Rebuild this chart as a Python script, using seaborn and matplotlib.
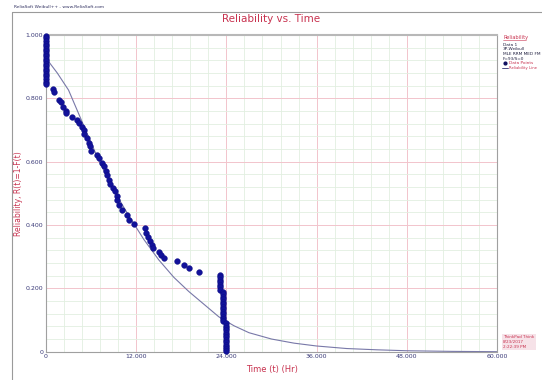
import numpy as np
import pandas as pd
import matplotlib.pyplot as plt
import matplotlib.lines as mlines
from matplotlib.ticker import MultipleLocator, FixedLocator
import seaborn as sns

# datos (tiempo en horas, fiabilidad)
t_col0 = [0.05] * 20
r_col0 = [0.997, 0.989, 0.981, 0.973, 0.965, 0.957, 0.949, 0.941, 0.933, 0.925,
          0.917, 0.909, 0.901, 0.893, 0.885, 0.877, 0.869, 0.861, 0.853, 0.845]

t_mid = [0.89, 1.06, 1.77, 1.95, 2.30, 2.62, 2.66, 3.50, 4.08, 4.43, 4.75, 5.05,
         5.09, 5.41, 5.68, 5.85, 5.98, 6.74, 7.09, 7.41, 7.71, 7.98, 8.15, 8.34,
         8.51, 8.95, 9.18, 9.40, 9.45, 9.75, 10.07, 10.73, 11.04, 11.74, 13.16,
         13.30, 13.60, 13.83, 14.06, 14.27, 15.07, 15.25, 15.69, 17.38, 18.39,
         19.06, 20.39]
r_mid = [0.830, 0.820, 0.795, 0.787, 0.774, 0.761, 0.753, 0.742, 0.732, 0.721,
         0.711, 0.700, 0.687, 0.674, 0.660, 0.648, 0.634, 0.621, 0.611, 0.597,
         0.585, 0.572, 0.558, 0.543, 0.530, 0.516, 0.506, 0.492, 0.479, 0.464,
         0.449, 0.432, 0.416, 0.404, 0.390, 0.376, 0.362, 0.350, 0.338, 0.327,
         0.316, 0.306, 0.296, 0.285, 0.274, 0.264, 0.251]

t_col1 = [23.1] * 7
r_col1 = [0.243, 0.235, 0.227, 0.219, 0.211, 0.203, 0.196]
t_col2 = [23.5] * 13
r_col2 = [0.190, 0.182, 0.174, 0.166, 0.158, 0.150, 0.142, 0.134, 0.126, 0.118,
          0.110, 0.103, 0.096]
t_col3 = [23.9] * 13
r_col3 = [0.090, 0.082, 0.075, 0.068, 0.060, 0.052, 0.045, 0.037, 0.030, 0.022,
          0.015, 0.008, 0.001]

# linea de fiabilidad (3P-Weibull)
t_line = [0, 1.5, 3, 5, 7, 9, 11, 13, 15, 17, 19, 21, 23, 25, 27, 30, 33, 36,
          40, 44, 48, 54, 60]
r_line = [0.927, 0.880, 0.826, 0.715, 0.605, 0.510, 0.430, 0.355, 0.290, 0.235,
          0.190, 0.150, 0.110, 0.082, 0.060, 0.040, 0.027, 0.018, 0.010, 0.006,
          0.003, 0.001, 0.0]

x_ticks = [0, 12, 24, 36, 48, 60]
x_labels = ['0', '12.000', '24.000', '36.000', '48.000', '60.000']
y_ticks = [0, 0.2, 0.4, 0.6, 0.8, 1.0]
y_labels = ['0', '0.200', '0.400', '0.600', '0.800', '1.000']

puntos = pd.DataFrame({
    't': t_col0 + t_mid + t_col1 + t_col2 + t_col3,
    'r': r_col0 + r_mid + r_col1 + r_col2 + r_col3,
})
linea = pd.DataFrame({'t': t_line, 'r': r_line})

sns.set_style("white")
plt.rcParams['font.family'] = ['DejaVu Sans']

ROJO = '#c8324f'
AZUL_TXT = '#3a3a78'

fig = plt.figure(figsize=(5.42, 3.8), dpi=100)
ax = fig.add_axes([46 / 542, 1 - 351.7 / 380, (497 - 46) / 542, (351.7 - 35) / 380])

# rejilla menor verde y mayor rosa
ax.xaxis.set_minor_locator(MultipleLocator(2.4))
ax.yaxis.set_minor_locator(MultipleLocator(0.04))
ax.xaxis.set_major_locator(FixedLocator(x_ticks))
ax.yaxis.set_major_locator(FixedLocator(y_ticks))
ax.grid(which='minor', color='#e2efe0', lw=0.6)
ax.grid(which='major', color='#f2c4cc', lw=0.7)
ax.set_axisbelow(True)

sns.lineplot(data=linea, x='t', y='r', ax=ax, color='#7878a8', lw=0.8)
sns.scatterplot(data=puntos, x='t', y='r', ax=ax, color='#12129a', s=17,
                edgecolor='#0a0a80', linewidth=0.3, clip_on=False, zorder=5)

ax.set_xlim(0, 60)
ax.set_ylim(0, 1)
ax.set_xticklabels(x_labels)
ax.set_yticklabels(y_labels)
ax.tick_params(which='both', length=0, labelsize=4.5, labelcolor=AZUL_TXT, pad=2)

for s in ax.spines.values():
    s.set_color('#a0a0a0')
    s.set_linewidth(0.8)
ax.spines['top'].set_linewidth(1.5)
ax.spines['top'].set_color('#b8b8b8')

ax.set_xlabel('Time (t) (Hr)', color=ROJO, fontsize=6, labelpad=4)
ax.set_ylabel('Reliability, R(t)=1-F(t)', color=ROJO, fontsize=5.5, labelpad=2)
ax.set_title('Reliability vs. Time', color=ROJO, fontsize=7.5, pad=9)

# marco exterior y cabecera
fig.add_artist(mlines.Line2D([12 / 542, 1], [1 - 12 / 380] * 2, color='#9a9a9a', lw=0.8))
fig.add_artist(mlines.Line2D([12 / 542] * 2, [0, 1 - 12 / 380], color='#9a9a9a', lw=0.8))
fig.text(14 / 542, 1 - 7 / 380, 'ReliaSoft Weibull++ - www.ReliaSoft.com',
         fontsize=3.2, color='#303060', va='center', ha='left')

# leyenda lateral
lx = 503 / 542
fig.text(lx, 1 - 37 / 380, 'Reliability', fontsize=3.6, color=ROJO, va='center')
fig.add_artist(mlines.Line2D([lx, 526 / 542], [1 - 40 / 380] * 2, color=ROJO, lw=0.4))
info = ['Data 1', '3P-Weibull', 'MLE RRM MED FM', 'F=93/S=0']
for i, txt in enumerate(info):
    fig.text(lx, 1 - (45 + i * 4.5) / 380, txt, fontsize=3.1, color='#202040', va='center')
fig.add_artist(mlines.Line2D([505 / 542], [1 - 63 / 380], marker='o', ms=2,
                             color='#101060', lw=0))
fig.text(509 / 542, 1 - 63 / 380, 'Data Points', fontsize=3.1, color=ROJO, va='center')
fig.add_artist(mlines.Line2D([502 / 542, 508 / 542], [1 - 67.5 / 380] * 2,
                             color='#303070', lw=0.6))
fig.text(509 / 542, 1 - 67.5 / 380, 'Reliability Line', fontsize=2.7, color=ROJO, va='center')

# sello de fecha
fig.text(503 / 542, 1 - 342 / 380, 'ThinkPad Think\n8/23/2017\n2:22:39 PM',
         fontsize=3.0, color=ROJO, va='center', ha='left', linespacing=1.2,
         bbox=dict(boxstyle='square,pad=0.3', fc='#f6e2e8', ec='none'))

plt.savefig('out.png', dpi=100)
